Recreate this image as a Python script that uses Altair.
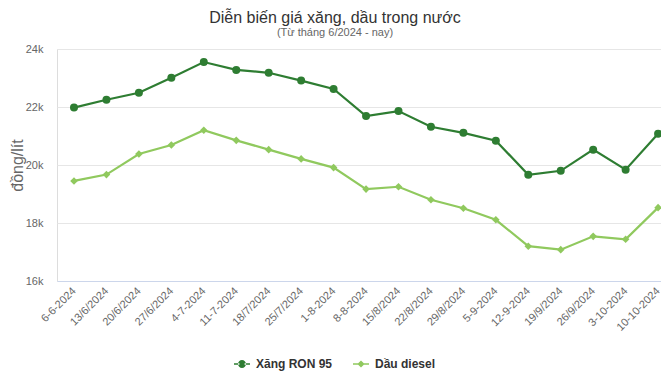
import json
import altair as alt
import pandas as pd

dates = ["6-6-2024", "13/6/2024", "20/6/2024", "27/6/2024", "4-7-2024", "11-7-2024",
         "18/7/2024", "25/7/2024", "1-8-2024", "8-8-2024", "15/8/2024", "22/8/2024",
         "29/8/2024", "5-9-2024", "12-9-2024", "19/9/2024", "26/9/2024", "3-10-2024",
         "10-10-2024"]
ron95 = [21980, 22250, 22490, 23010, 23550, 23280, 23180, 22910, 22620, 21690,
         21860, 21320, 21110, 20840, 19660, 19800, 20530, 19840, 21080]
diesel = [19450, 19670, 20380, 20690, 21200, 20850, 20530, 20210, 19910, 19170,
          19250, 18800, 18510, 18110, 17200, 17080, 17540, 17440, 18530]
series = ["Xăng RON 95", "Dầu diesel"]
colors = ["#2e7d32", "#90c95e"]

rows = []
for i, d in enumerate(dates):
    rows.append({"idx": i, "date": d, "series": series[0], "value": ron95[i]})
    rows.append({"idx": i, "date": d, "series": series[1], "value": diesel[i]})
df = pd.DataFrame(rows)

FONT = "Liberation Sans"
label_expr = json.dumps(dates, ensure_ascii=False) + "[round(datum.value)]"

x = alt.X("idx:Q",
          scale=alt.Scale(domain=[-0.524, 18.09], nice=False, zero=False),
          axis=alt.Axis(values=list(range(len(dates))), labelExpr=label_expr,
                        labelAngle=-45, labelAlign="right", labelBaseline="middle",
                        labelPadding=8, ticks=False, tickSize=0, grid=False,
                        domainColor="#ccd6eb", domainWidth=1,
                        labelFont=FONT, labelFontSize=11, labelColor="#666666",
                        title=None, labelOverlap=False, labelFlush=False))
y = alt.Y("value:Q",
          scale=alt.Scale(domain=[16000, 24000], nice=False, zero=False),
          axis=alt.Axis(values=[16000, 18000, 20000, 22000, 24000],
                        labelExpr="datum.value/1000 + 'k'",
                        ticks=False, tickSize=0, domain=False, labelPadding=14,
                        gridColor="#e6e6e6", gridWidth=1,
                        labelFont=FONT, labelFontSize=11, labelColor="#666666",
                        title="đồng/lít", titleFont=FONT, titleFontSize=16,
                        titleFontWeight="normal", titleColor="#666666",
                        titleX=-40, titleY=116, titleAngle=270,
                        titleAlign="center", titleBaseline="middle"))

color_scale = alt.Scale(domain=series, range=colors)

circ_path = ("M-1,-0.09H-0.32V0.09H-1Z M0.32,-0.09H1V0.09H0.32Z "
             "M-0.5,0A0.5,0.5 0 1,0 0.5,0A0.5,0.5 0 1,0 -0.5,0Z")
diam_path = ("M-1,-0.09H-0.3V0.09H-1Z M0.3,-0.09H1V0.09H0.3Z "
             "M0,-0.45L0.45,0L0,0.45L-0.45,0Z")

legend = alt.Legend(orient="none", legendX=177, legendY=307, direction="horizontal",
                    title=None, labelFont=FONT, labelFontSize=12, labelFontWeight="bold",
                    labelColor="#333333", labelOffset=6, columnPadding=20,
                    symbolSize=256, symbolStrokeWidth=0)

color = alt.Color("series:N", scale=color_scale, legend=legend)

base = alt.Chart(df)
lines = base.mark_line(strokeWidth=2.2).encode(
    x=x, y=y, color=color, detail="series:N",
)
pts_ron = base.transform_filter(alt.datum.series == series[0]).mark_point(
    filled=True, opacity=1, shape="circle", size=64
).encode(x=x, y=y, color=color)
pts_die = base.transform_filter(alt.datum.series == series[1]).mark_point(
    filled=True, opacity=1, shape="diamond", size=58
).encode(x=x, y=y, color=color)
legend_layer = base.transform_filter("datum.value < 0").mark_point(
    filled=True, opacity=1, size=256
).encode(
    x=x, y=y,
    color=color,
    shape=alt.Shape("series:N", scale=alt.Scale(domain=series, range=[circ_path, diam_path]),
                    legend=legend),
)

chart = alt.layer(legend_layer, lines, pts_ron, pts_die).properties(
    width=604, height=232,
    autosize=alt.AutoSizeParams(type="none"),
    padding={"left": 49, "top": 41, "right": 0, "bottom": 96},
    title=alt.TitleParams(
        text="Diễn biến giá xăng, dầu trong nước",
        subtitle="(Từ tháng 6/2024 - nay)",
        anchor="middle", frame="group", dx=-24, offset=5,
        font=FONT, fontSize=16, fontWeight="normal", color="#333333",
        subtitleFont=FONT, subtitleFontSize=11, subtitleColor="#666666",
        subtitlePadding=1,
    ),
).configure_view(stroke=None).configure(background="white")

chart.save("out.html", embed_options={"renderer": "svg", "actions": False})
